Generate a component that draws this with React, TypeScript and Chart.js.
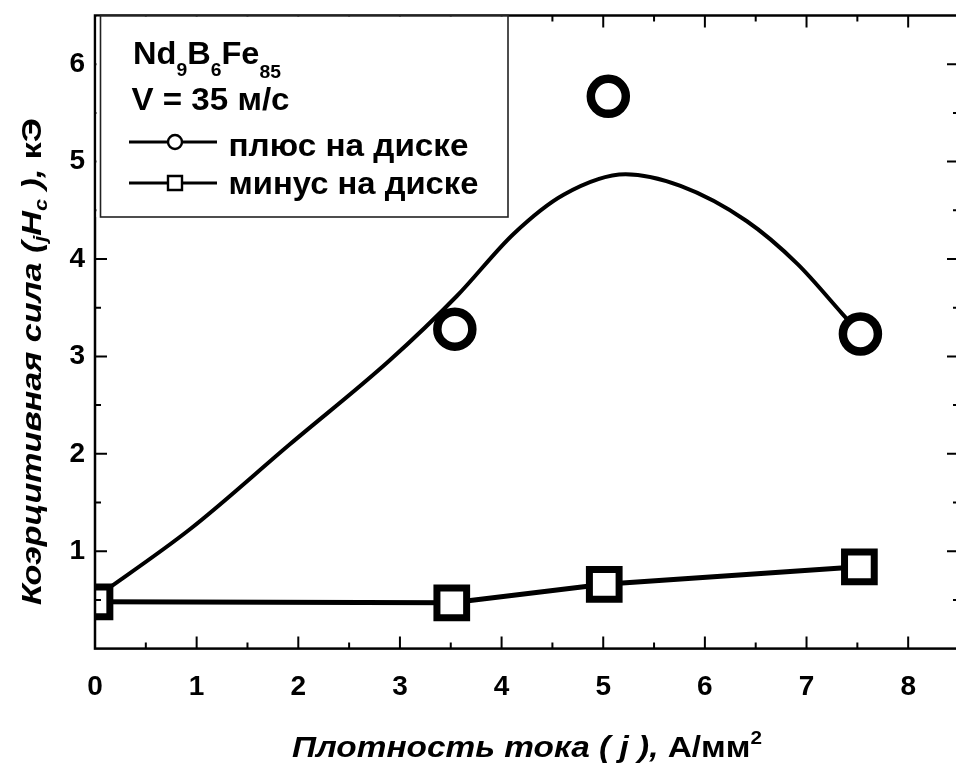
import React, { useEffect, useRef } from "react";
import { Chart, registerables } from "chart.js";

Chart.register(...registerables);

// ---- data ----
const PLUS_X = [3.54, 5.05, 7.53];
const PLUS_Y = [3.28, 5.67, 3.23];

// fitted curve through the "плюс" data
const FIT_X = [0, 0.94, 1.92, 2.9, 3.56, 4.12, 4.61, 5.22, 5.76, 6.41, 6.91, 7.35, 7.53];
const FIT_Y = [0.52, 1.23, 2.1, 2.96, 3.62, 4.26, 4.66, 4.87, 4.75, 4.39, 3.95, 3.44, 3.23];

const MINUS_X = [0, 3.51, 5.01, 7.52];
const MINUS_Y = [0.48, 0.47, 0.66, 0.84];

const X_TICKS = [0, 1, 2, 3, 4, 5, 6, 7, 8];
const Y_TICKS = [1, 2, 3, 4, 5, 6];
const X_MINOR = [0.5, 1.5, 2.5, 3.5, 4.5, 5.5, 6.5, 7.5];
const Y_MINOR = [0.5, 1.5, 2.5, 3.5, 4.5, 5.5];

const SERIES_PLUS = "плюс на диске";
const SERIES_MINUS = "минус на диске";

const FAMILY = "'Liberation Sans', Arial, sans-serif";

type Seg = { t: string; size: number; style?: string; weight?: string; dy?: number };

function segFont(s: Seg) {
  return `${s.style || "normal"} ${s.weight || "bold"} ${s.size}px ${FAMILY}`;
}

function measureSegs(ctx: CanvasRenderingContext2D, segs: Seg[]) {
  let w = 0;
  for (const s of segs) {
    ctx.font = segFont(s);
    w += ctx.measureText(s.t).width;
  }
  return w;
}

function drawRich(ctx: CanvasRenderingContext2D, segs: Seg[], x: number, y: number, targetW?: number) {
  const w = measureSegs(ctx, segs);
  const sx = targetW ? targetW / w : 1;
  ctx.save();
  ctx.translate(x, y);
  ctx.scale(sx, 1);
  ctx.textAlign = "left";
  ctx.textBaseline = "alphabetic";
  ctx.fillStyle = "#000";
  let cx = 0;
  for (const s of segs) {
    ctx.font = segFont(s);
    ctx.fillText(s.t, cx, s.dy || 0);
    cx += ctx.measureText(s.t).width;
  }
  ctx.restore();
}

const framePlugin = {
  id: "frameAndLegend",
  afterDatasetsDraw(chart: any) {
    const { ctx, chartArea: a } = chart;
    const xs = chart.scales.x;
    const ys = chart.scales.y;
    ctx.save();
    ctx.strokeStyle = "#000";
    ctx.lineCap = "butt";

    // ticks (inward on all four sides)
    ctx.lineWidth = 2;
    const MAJ = 12;
    const MIN = 6;
    const vTick = (v: number, len: number) => {
      const px = xs.getPixelForValue(v);
      ctx.beginPath();
      ctx.moveTo(px, a.bottom);
      ctx.lineTo(px, a.bottom - len);
      ctx.moveTo(px, a.top);
      ctx.lineTo(px, a.top + len);
      ctx.stroke();
    };
    const hTick = (v: number, len: number) => {
      const py = ys.getPixelForValue(v);
      ctx.beginPath();
      ctx.moveTo(a.left, py);
      ctx.lineTo(a.left + len, py);
      ctx.moveTo(a.right, py);
      ctx.lineTo(a.right - len, py);
      ctx.stroke();
    };
    X_TICKS.forEach((v) => vTick(v, MAJ));
    X_MINOR.forEach((v) => vTick(v, MIN));
    Y_TICKS.forEach((v) => hTick(v, MAJ));
    Y_MINOR.forEach((v) => hTick(v, MIN));

    // frame
    ctx.lineWidth = 2.5;
    ctx.strokeRect(a.left, a.top, a.right - a.left, a.bottom - a.top);

    // legend box
    const bx0 = 100.5;
    const by0 = a.top;
    const bx1 = 508;
    const by1 = 217;
    ctx.fillStyle = "#fff";
    ctx.fillRect(a.left + 1.5, by0 + 1.2, bx1 - a.left - 1.5, by1 - by0 - 1.2);
    ctx.lineWidth = 1.6;
    ctx.strokeStyle = "#222";
    ctx.strokeRect(bx0, by0, bx1 - bx0, by1 - by0);

    // legend title lines
    drawRich(
      ctx,
      [
        { t: "Nd", size: 32 },
        { t: "9", size: 19, dy: 12 },
        { t: "B", size: 32 },
        { t: "6", size: 19, dy: 12 },
        { t: "Fe", size: 32 },
        { t: "85", size: 19, dy: 14 },
      ],
      133,
      64,
      148
    );
    drawRich(ctx, [{ t: "V = 35 м/с", size: 32 }], 131.5, 110, 158);

    // legend entries
    const rows = [
      { label: SERIES_PLUS, y: 142, style: "circle" },
      { label: SERIES_MINUS, y: 183, style: "rect" },
    ];
    for (const r of rows) {
      ctx.strokeStyle = "#000";
      ctx.lineWidth = 2.8;
      ctx.beginPath();
      ctx.moveTo(129, r.y);
      ctx.lineTo(217, r.y);
      ctx.stroke();
      ctx.fillStyle = "#fff";
      ctx.lineWidth = 2.4;
      ctx.beginPath();
      if (r.style === "circle") {
        ctx.arc(175, r.y, 7, 0, Math.PI * 2);
      } else {
        ctx.rect(168, r.y - 7, 14, 14);
      }
      ctx.fill();
      ctx.stroke();
    }
    drawRich(ctx, [{ t: SERIES_PLUS, size: 32 }], 228.5, 156, 240);
    drawRich(ctx, [{ t: SERIES_MINUS, size: 32 }], 228.5, 194, 250);

    // axis titles
    drawRich(
      ctx,
      [
        { t: "Плотность тока ( j ), ", size: 29, style: "italic" },
        { t: "А/мм", size: 29 },
        { t: "2", size: 18, dy: -13 },
      ],
      292,
      757,
      470
    );

    const len = 487;
    ctx.save();
    ctx.translate(41, 361.5);
    ctx.rotate(-Math.PI / 2);
    drawRich(
      ctx,
      [
        { t: "Коэрцитивная сила (", size: 28, style: "italic" },
        { t: "j", size: 18, style: "italic", dy: 5 },
        { t: "H", size: 28, style: "italic" },
        { t: "c", size: 18, style: "italic", dy: 6 },
        { t: " ), ", size: 28, style: "italic" },
        { t: "кЭ", size: 28 },
      ],
      -len / 2,
      0,
      len
    );
    ctx.restore();

    ctx.restore();
  },
};

const zeroPad = (s: any) => {
  s.paddingTop = 0;
  s.paddingBottom = 0;
  s.paddingLeft = 0;
  s.paddingRight = 0;
};

export default function App() {
  const ref = useRef<HTMLCanvasElement | null>(null);

  useEffect(() => {
    if (!ref.current) return;
    const tickFont = { family: FAMILY, size: 28, weight: "bold" as const };
    const chart = new Chart(ref.current, {
      type: "line",
      data: {
        datasets: [
          {
            label: SERIES_PLUS,
            data: PLUS_X.map((x, i) => ({ x, y: PLUS_Y[i] })),
            showLine: false,
            pointStyle: "circle",
            pointRadius: 17.5,
            pointBorderWidth: 8.5,
            pointBackgroundColor: "#fff",
            pointBorderColor: "#000",
            borderColor: "#000",
            order: 1,
          },
          {
            label: SERIES_MINUS,
            data: MINUS_X.map((x, i) => ({ x, y: MINUS_Y[i] })),
            borderColor: "#000",
            borderWidth: 5,
            tension: 0,
            pointStyle: "rect",
            pointRadius: 21,
            pointBorderWidth: 7,
            pointBackgroundColor: "#fff",
            pointBorderColor: "#000",
            clip: 0,
            order: 2,
          },
          {
            label: "fit",
            data: FIT_X.map((x, i) => ({ x, y: FIT_Y[i] })),
            borderColor: "#000",
            borderWidth: 4,
            pointRadius: 0,
            cubicInterpolationMode: "monotone",
            order: 3,
          },
        ],
      },
      options: {
        responsive: false,
        animation: false,
        devicePixelRatio: 1,
        layout: { autoPadding: false, padding: { top: 15.5, right: 11, left: 0, bottom: 0 } },
        plugins: { legend: { display: false }, tooltip: { enabled: false }, title: { display: false } },
        scales: {
          x: {
            type: "linear",
            min: 0,
            max: 8.5,
            grid: { display: false, drawTicks: false },
            border: { display: false },
            afterBuildTicks: (s: any) => {
              s.ticks = X_TICKS.map((v) => ({ value: v }));
            },
            afterFit: (s: any) => {
              s.height = 122.4;
              zeroPad(s);
            },
            ticks: {
              font: tickFont,
              color: "#000",
              padding: 22,
              maxRotation: 0,
              autoSkip: false,
              callback: (v: any) => String(v),
            },
          },
          y: {
            type: "linear",
            min: 0,
            max: 6.5,
            grid: { display: false, drawTicks: false },
            border: { display: false },
            afterBuildTicks: (s: any) => {
              s.ticks = Y_TICKS.map((v) => ({ value: v }));
            },
            afterFit: (s: any) => {
              s.width = 95;
              zeroPad(s);
            },
            ticks: {
              font: tickFont,
              color: "#000",
              padding: 10,
              autoSkip: false,
              callback: (v: any) => String(v),
            },
          },
        },
      },
      plugins: [framePlugin],
    });
    return () => chart.destroy();
  }, []);

  return (
    <div
      style={{
        position: "fixed",
        left: 0,
        top: 0,
        width: 956,
        height: 771,
        overflow: "hidden",
        background: "#fff",
      }}
    >
      <canvas ref={ref} width={970} height={771} style={{ display: "block", width: 970, height: 771 }} />
    </div>
  );
}
